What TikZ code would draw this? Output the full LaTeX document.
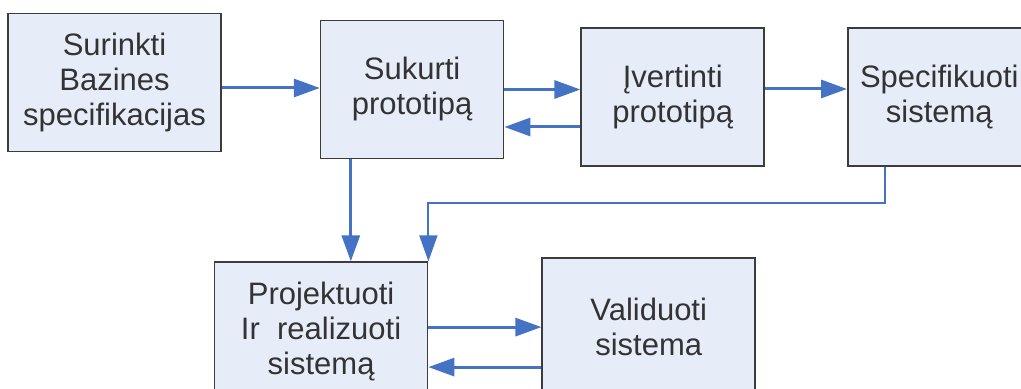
\documentclass[tikz,border=0pt]{standalone}
\usepackage{fontspec}
\setmainfont{Liberation Sans}
\usepackage{xcolor}
\usetikzlibrary{arrows.meta, positioning}

\definecolor{arrowblue}{RGB}{68,114,196}
\definecolor{boxfill}{RGB}{230,237,248}
\definecolor{boxline}{RGB}{60,60,60}

\begin{document}
\begin{tikzpicture}[
    x=0.5pt, y=-0.5pt,
    procbox/.style={rectangle, draw=boxline, fill=boxfill, line width=0.8pt, minimum height=69pt, align=center, inner sep=2pt, text=black!80, font=\fontsize{15.5}{17.5}\selectfont},
    widebox/.style={procbox, minimum width=106.5pt},
    narrowbox/.style={procbox, minimum width=91.5pt},
    arrow/.style={-{Triangle[length=13pt, width=9pt]}, line width=1.5pt, draw=arrowblue}
]
    \useasboundingbox (0,0) rectangle (1021,389);

    \node[widebox] (s1) at (114.5,82.5) {Surinkti\\Bazines\\specifikacijas};
    \node[narrowbox, right=49pt of s1, yshift=-3.5pt] (s2) {Sukurti\\prototipą};
    \node[narrowbox, right=38pt of s2, yshift=-3.75pt] (s3) {Įvertinti\\prototipą};
    \node[narrowbox, right=41pt of s3] (s4) {Specifikuoti\\sistemą};
    \node[widebox, below=51pt of s2, xshift=-45.5pt] (s5) {Projektuoti\\Ir\ \ realizuoti\\sistemą};
    \node[widebox, right=56.5pt of s5, yshift=2pt] (s6) {Validuoti\\sistema};

    \draw[arrow] ([yshift=-2.75pt]s1.east) -- ([yshift=-2.75pt]s1.east -| s2.west);
    \draw[arrow] (s2.east) -- (s2.east -| s3.west);
    \draw[arrow] ([yshift=-15pt]s3.west) -- ([yshift=-15pt]s3.west -| s2.east);
    \draw[arrow] ([yshift=4pt]s3.east) -- ([yshift=4pt]s3.east -| s4.west);
    \draw[arrow] ([xshift=15.5pt]s2.south west) -- ([xshift=15.5pt]s2.south west |- s5.north);
    \draw[arrow, line width=1pt] ([xshift=19pt]s4.south west) -- ++(0,-18pt) -| (s5.north east);
    \draw[arrow] (s6.west -| s5.east) -- (s6.west);
    \draw[arrow] ([yshift=-20pt]s6.west) -- ([yshift=-20pt]s6.west -| s5.east);
\end{tikzpicture}
\end{document}
